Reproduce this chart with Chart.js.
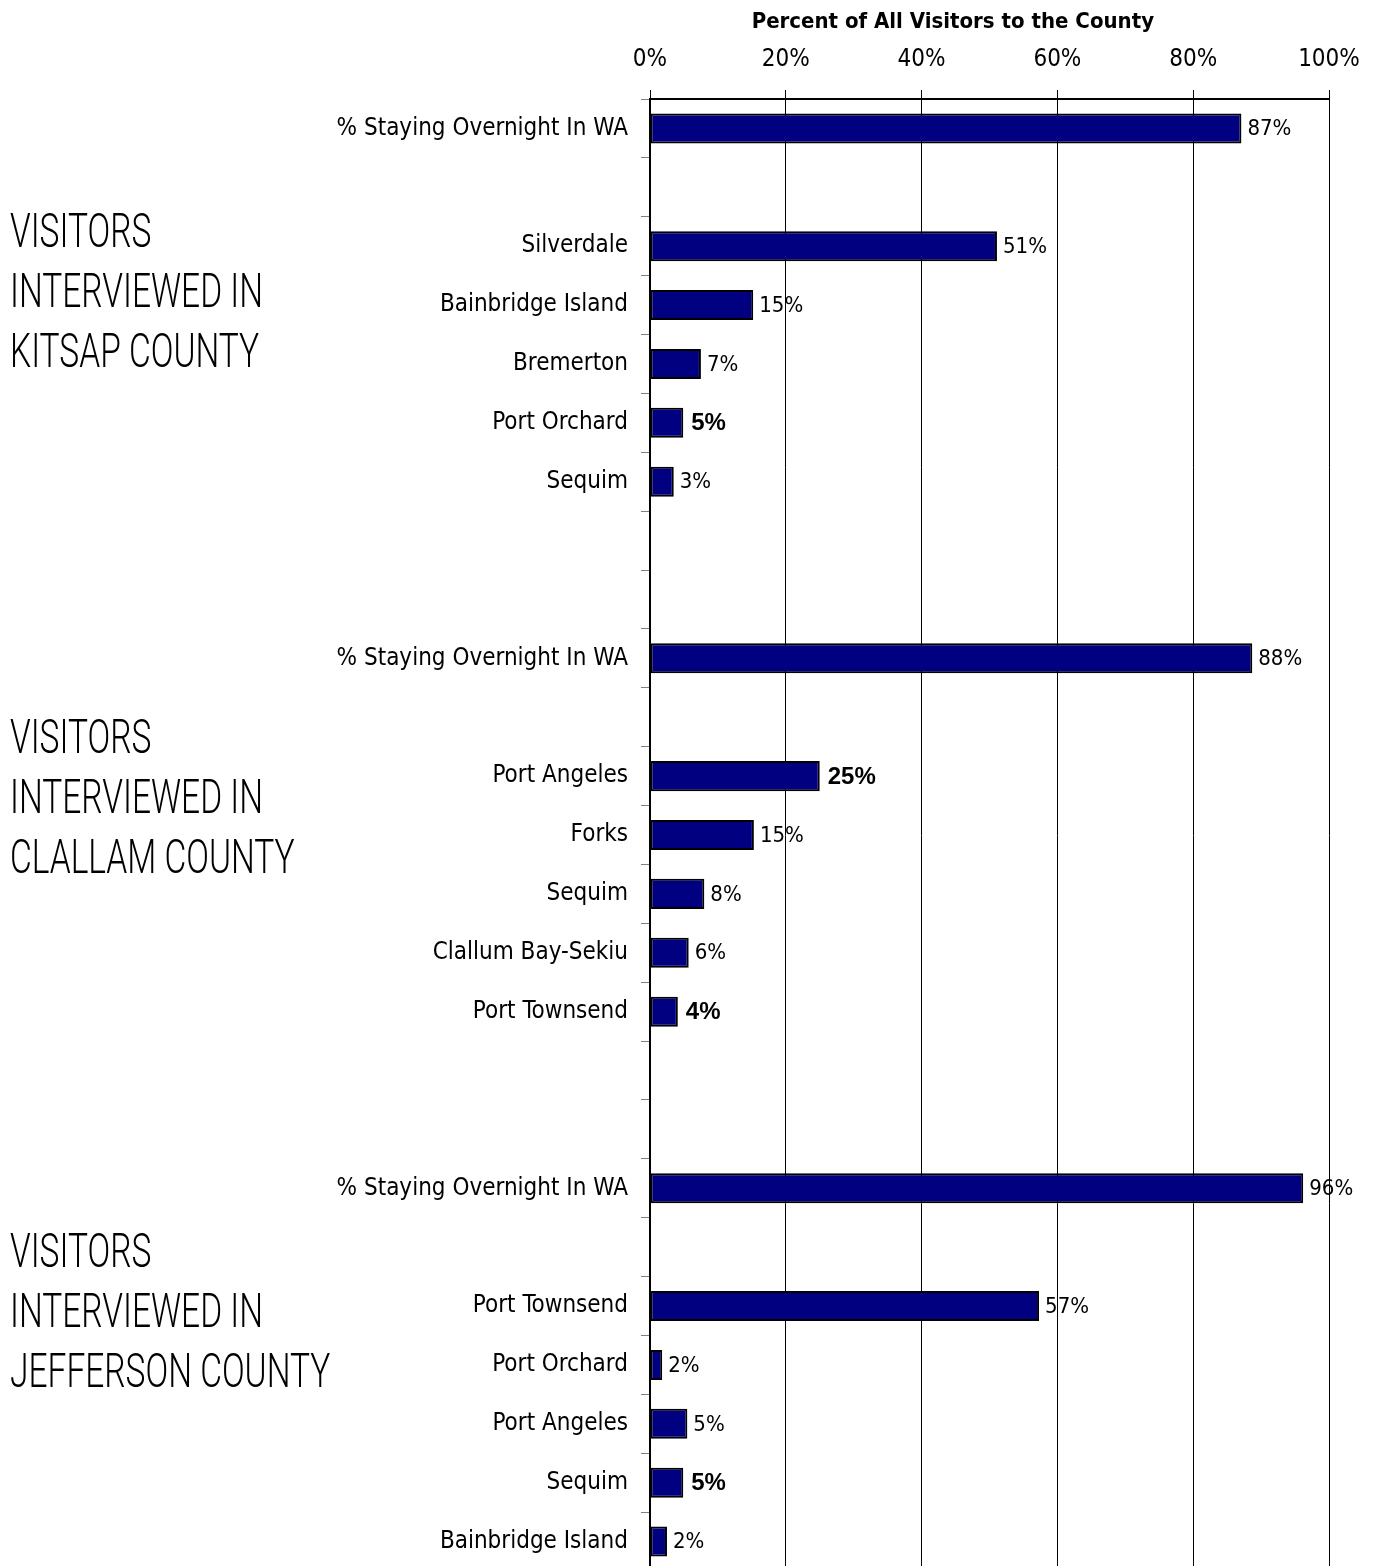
<!DOCTYPE html>
<html>
<head>
<meta charset="utf-8">
<script src="https://cdn.jsdelivr.net/npm/chart.js@4/dist/chart.umd.min.js"></script>
<style>
  html, body { margin: 0; padding: 0; background: #fff; overflow: hidden; }
  #wrap { position: relative; width: 1374px; height: 1571px; }
</style>
</head>
<body>
<div id="wrap"><canvas id="visitantesGrafico"></canvas></div>
<script>
// rows of the chart, top to bottom ('' = spacer row)
const rowLabels = [
  '% Staying Overnight In WA', '', 'Silverdale', 'Bainbridge Island', 'Bremerton', 'Port Orchard', 'Sequim', '', '',
  '% Staying Overnight In WA', '', 'Port Angeles', 'Forks', 'Sequim', 'Clallum Bay-Sekiu', 'Port Townsend', '', '',
  '% Staying Overnight In WA', '', 'Port Townsend', 'Port Orchard', 'Port Angeles', 'Sequim', 'Bainbridge Island'
];
const percentValues = [
  87.1, null, 51.1, 15.2, 7.5, 4.9, 3.5, null, null,
  88.7, null, 25.0, 15.3, 8.0, 5.7, 4.1, null, null,
  96.2, null, 57.3, 1.8, 5.5, 4.9, 2.5
];
const valueLabels = [
  '87%', '', '51%', '15%', '7%', '5%', '3%', '', '',
  '88%', '', '25%', '15%', '8%', '6%', '4%', '', '',
  '96%', '', '57%', '2%', '5%', '5%', '2%'
];
const boldRows = [5, 11, 15, 23];
const xTicks = [0, 20, 40, 60, 80, 100];
const axisTitle = 'Percent of All Visitors to the County';
const groupTitles = [
  ['VISITORS', 'INTERVIEWED IN', 'KITSAP COUNTY'],
  ['VISITORS', 'INTERVIEWED IN', 'CLALLAM COUNTY'],
  ['VISITORS', 'INTERVIEWED IN', 'JEFFERSON COUNTY']
];

const narrow = '"Liberation Sans Narrow", "Arial Narrow", "DejaVu Sans Condensed", sans-serif';
const azulBarra = '#000080';

// where the side titles sit (baseline of first line)
const groupTitleTops = [247, 753, 1267];
const groupLineGap = 60;

const textoExtra = {
  id: 'textoExtra',
  afterDatasetsDraw(chart) {
    const ctx = chart.ctx;
    const meta = chart.getDatasetMeta(0);
    ctx.save();
    ctx.textBaseline = 'middle';
    ctx.textAlign = 'left';
    ctx.fillStyle = '#000';
    meta.data.forEach((bar, i) => {
      if (!valueLabels[i]) return;
      if (boldRows.includes(i)) {
        ctx.font = 'bold 24px "Liberation Sans", Arial, sans-serif';
        ctx.fillText(valueLabels[i], bar.x + 8, bar.y + 1);
      } else {
        ctx.font = '22px ' + narrow;
        ctx.fillText(valueLabels[i], bar.x + 6, bar.y + 1);
      }
    });
    ctx.restore();
  },
  afterDraw(chart) {
    const ctx = chart.ctx;
    const xs = chart.scales.x;
    ctx.save();
    ctx.fillStyle = '#000';
    ctx.textBaseline = 'middle';
    ctx.textAlign = 'center';
    ctx.font = 'bold 22px ' + narrow;
    ctx.fillText(axisTitle, xs.getPixelForValue(44.6), 22);

    // side titles: light face squeezed to the condensed width of the original
    ctx.textAlign = 'left';
    ctx.textBaseline = 'alphabetic';
    ctx.font = '300 48px Roboto, "DejaVu Sans", sans-serif';
    const sx = 253 / ctx.measureText('INTERVIEWED IN').width;
    groupTitles.forEach((linhas, g) => {
      linhas.forEach((txt, k) => {
        ctx.save();
        ctx.translate(10, groupTitleTops[g] + k * groupLineGap);
        ctx.scale(sx, 1);
        ctx.fillText(txt, 0, 0);
        ctx.restore();
      });
    });
    ctx.restore();
  }
};

window.onload = function() {
  const canvas = document.getElementById('visitantesGrafico');
  const ctx = canvas.getContext('2d');
  window.myBar = new Chart(ctx, {
    type: 'bar',
    data: {
      labels: rowLabels,
      datasets: [{
        data: percentValues,
        backgroundColor: azulBarra,
        borderColor: '#000',
        borderWidth: 2,
        borderSkipped: false,
        barPercentage: 0.51,
        categoryPercentage: 1
      }]
    },
    options: {
      indexAxis: 'y',
      responsive: true,
      maintainAspectRatio: false,
      animation: false,
      layout: { padding: { top: 0, right: 45, bottom: 0, left: 0 } },
      plugins: {
        legend: { display: false },
        title: { display: false },
        tooltip: { enabled: false }
      },
      scales: {
        x: {
          position: 'top',
          min: 0,
          max: 100,
          afterBuildTicks: (scale) => { scale.ticks = xTicks.map(v => ({ value: v })); },
          afterFit: (scale) => {
            scale.height = 99;
            scale.paddingLeft = 0;
            scale.paddingRight = 0;
          },
          ticks: {
            callback: (v) => v + '%',
            color: '#000',
            font: { family: narrow, size: 24 },
            padding: 16,
            maxRotation: 0
          },
          grid: { color: '#000', lineWidth: 1, tickLength: 9, tickColor: '#000' },
          border: { display: true, color: '#000', width: 2 }
        },
        y: {
          afterFit: (scale) => {
            scale.width = 650;
            scale.paddingTop = 0;
            scale.paddingBottom = 0;
          },
          ticks: {
            color: '#000',
            font: { family: narrow, size: 24 },
            padding: 13,
            autoSkip: false
          },
          grid: { drawOnChartArea: false, offset: true, tickLength: 9, color: '#808080', lineWidth: 1 },
          border: { display: true, color: '#000', width: 2 }
        }
      }
    },
    plugins: [textoExtra]
  });
};
</script>
</body>
</html>
